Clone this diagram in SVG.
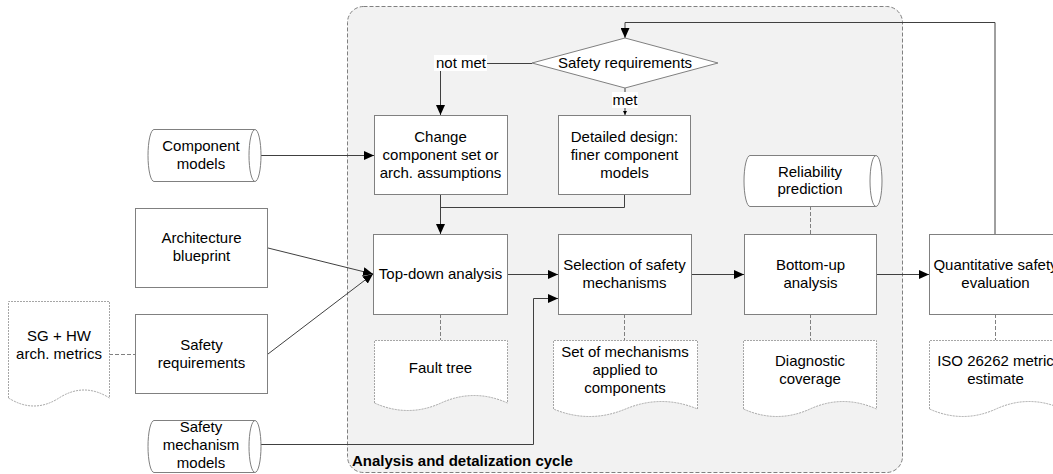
<svg xmlns="http://www.w3.org/2000/svg" width="1053" height="474" viewBox="0 0 1053 474">
<defs>
<marker id="arr" markerWidth="10" markerHeight="9" refX="10" refY="4.5" orient="auto" markerUnits="userSpaceOnUse"><path d="M0,0 L10,4.5 L0,9 Z" fill="#000"/></marker>
<marker id="arrs" markerWidth="5" markerHeight="4" refX="4" refY="2" orient="auto" markerUnits="userSpaceOnUse"><path d="M0,0 L4,2 L0,4 Z" fill="#000"/></marker>
</defs>
<style>
text{font-family:"Liberation Sans",Arial,sans-serif;font-size:15px;fill:#000;text-anchor:middle}
.box{fill:#fff;stroke:#808080;stroke-width:1}
.doc{fill:#fff;stroke:#a6a6a6;stroke-width:1;stroke-dasharray:2,1}
.ln{fill:none;stroke:#404040;stroke-width:1}
.dl{fill:none;stroke:#808080;stroke-width:1;stroke-dasharray:4,2}
</style>
<rect id="cycle" x="347.5" y="6.5" width="555" height="466" rx="16" fill="#f2f2f2" stroke="#808080" stroke-dasharray="4,2"/>
<text x="352" y="466" style="text-anchor:start;font-weight:bold">Analysis and detalization cycle</text>

<g id="connectors">
<path class="ln" d="M995,234 V22.5 H625 V38" marker-end="url(#arr)"/>
<path class="ln" d="M532,63.5 H440.5 V115" marker-end="url(#arr)"/>
<path class="ln" d="M625,88 V115" marker-end="url(#arrs)"/>
<path class="ln" d="M255,155.5 H374" marker-end="url(#arr)"/>
<path class="ln" d="M440.5,194 V234" marker-end="url(#arr)"/>
<path class="ln" d="M624.5,194 V207.5 H440.5"/>
<path class="ln" d="M268,248 L373,274" marker-end="url(#arr)"/>
<path class="ln" d="M268,354 L373,274" marker-end="url(#arr)"/>
<path class="ln" d="M507,274.5 H558" marker-end="url(#arr)"/>
<path class="ln" d="M261,444.5 H533.5 V298.5 H558" marker-end="url(#arr)"/>
<path class="ln" d="M691,274.5 H744" marker-end="url(#arr)"/>
<path class="ln" d="M876,274.5 H929" marker-end="url(#arr)"/>
<path class="dl" d="M440.5,314 V340"/>
<path class="dl" d="M624.5,314 V340"/>
<path class="dl" d="M810.5,314 V340"/>
<path class="dl" d="M810.5,206 V234"/>
<path class="dl" d="M995.5,314 V340"/>
<path class="dl" d="M109,354.5 H135"/>
<rect x="434" y="55" width="53" height="16" fill="#fff"/>
<text x="461" y="68">not met</text>
<rect x="612" y="92" width="26" height="16" fill="#fff"/>
<text x="625" y="105">met</text>
</g>

<g id="decision">
<path class="box" d="M532,63 L625,38 L718,63 L625,88 Z"/>
<text x="625" y="68">Safety requirements</text>
</g>

<g id="change">
<rect class="box" x="374.5" y="115.5" width="133" height="79"/>
<text x="440.5" y="142">Change</text>
<text x="440.5" y="160">component set or</text>
<text x="440.5" y="178">arch. assumptions</text>
</g>

<g id="detailed">
<rect class="box" x="558.5" y="115.5" width="132" height="79"/>
<text x="624.5" y="142">Detailed design:</text>
<text x="624.5" y="160">finer component</text>
<text x="624.5" y="178">models</text>
</g>

<g id="topdown">
<rect class="box" x="373.5" y="234.5" width="134" height="80"/>
<text x="440.5" y="279">Top-down analysis</text>
</g>

<g id="selection">
<rect class="box" x="558.5" y="234.5" width="133" height="80"/>
<text x="624.5" y="270">Selection of safety</text>
<text x="624.5" y="288">mechanisms</text>
</g>

<g id="bottomup">
<rect class="box" x="744.5" y="234.5" width="132" height="80"/>
<text x="810.5" y="270">Bottom-up</text>
<text x="810.5" y="288">analysis</text>
</g>

<g id="quantitative">
<rect class="box" x="929.5" y="234.5" width="133" height="80"/>
<text x="995.5" y="270">Quantitative safety</text>
<text x="995.5" y="288">evaluation</text>
</g>

<g id="componentmodels">
<path class="box" d="M154,129.5 H255 A6,26 0 0 1 255,181.5 H154 A6,26 0 0 1 154,129.5 Z"/>
<path class="box" d="M255,181.5 A6,26 0 0 1 255,129.5" fill="none"/>
<text x="201" y="151">Component</text>
<text x="201" y="169">models</text>
</g>

<g id="reliability">
<path class="box" d="M750,155.5 H876 A6,25.5 0 0 1 876,206.5 H750 A6,25.5 0 0 1 750,155.5 Z"/>
<path class="box" d="M876,206.5 A6,25.5 0 0 1 876,155.5" fill="none"/>
<text x="810" y="177">Reliability</text>
<text x="810" y="194">prediction</text>
</g>

<g id="smmodels">
<path class="box" d="M154,420.5 H255 A6,26 0 0 1 255,472.5 H154 A6,26 0 0 1 154,420.5 Z"/>
<path class="box" d="M255,472.5 A6,26 0 0 1 255,420.5" fill="none"/>
<text x="201" y="432">Safety</text>
<text x="201" y="450">mechanism</text>
<text x="201" y="468">models</text>
</g>

<g id="architecture">
<rect class="box" x="135.5" y="208.5" width="132" height="79"/>
<text x="201.5" y="243">Architecture</text>
<text x="201.5" y="261">blueprint</text>
</g>

<g id="safetyreq">
<rect class="box" x="135.5" y="314.5" width="132" height="79"/>
<text x="201.5" y="350">Safety</text>
<text x="201.5" y="368">requirements</text>
</g>

<g id="sghw">
<path class="doc" d="M8.5,398 V301.5 H109.5 V398 Q84,382 59,398 T8.5,398 Z"/>
<text x="59" y="341">SG + HW</text>
<text x="59" y="359">arch. metrics</text>
</g>

<g id="faulttree">
<path class="doc" d="M374.5,403 V340.5 H507.5 V403 Q474,388 441,403 T374.5,403 Z"/>
<text x="440.5" y="373">Fault tree</text>
</g>

<g id="setmech">
<path class="doc" d="M553.5,409 V340.5 H697.5 V409 Q661.5,394 625.5,409 T553.5,409 Z"/>
<text x="625" y="357">Set of mechanisms</text>
<text x="625" y="375">applied to</text>
<text x="625" y="393">components</text>
</g>

<g id="diagcov">
<path class="doc" d="M743.5,409 V340.5 H876.5 V409 Q843,394 810,409 T743.5,409 Z"/>
<text x="810" y="366">Diagnostic</text>
<text x="810" y="384">coverage</text>
</g>

<g id="iso">
<path class="doc" d="M929.5,409 V340.5 H1062.5 V409 Q1029,394 996,409 T929.5,409 Z"/>
<text x="995.5" y="366">ISO 26262 metric</text>
<text x="995.5" y="384">estimate</text>
</g>
</svg>
